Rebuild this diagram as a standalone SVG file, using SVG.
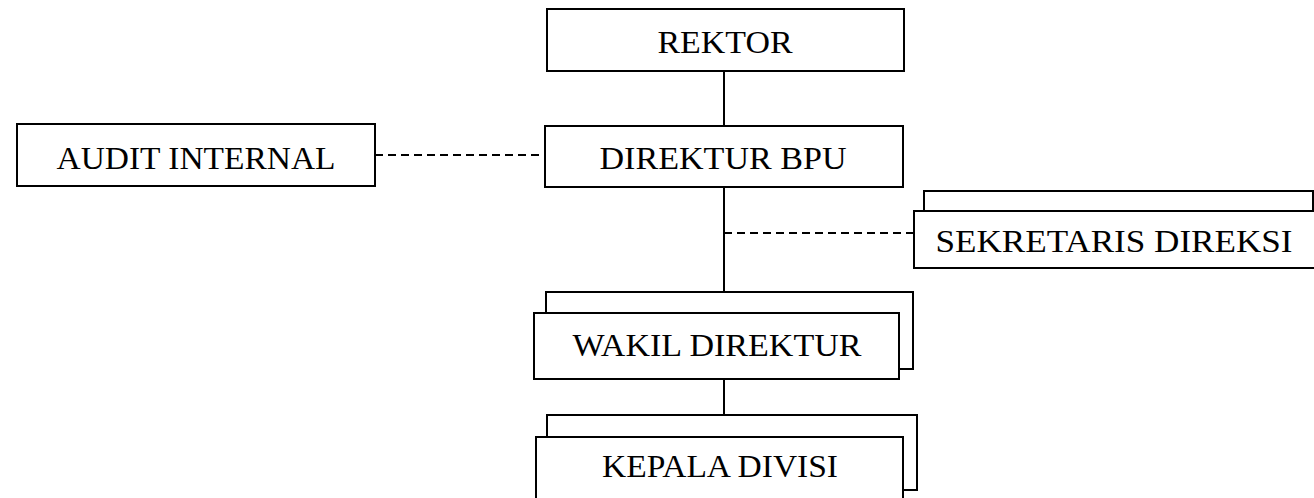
<svg xmlns="http://www.w3.org/2000/svg" width="1314" height="498" viewBox="0 0 1314 498">
<style>
.box{fill:#fff;stroke:#000;stroke-width:2}
.t{font-family:"Liberation Serif","DejaVu Serif",serif;font-size:32px;fill:#000;text-anchor:middle}
.ln{stroke:#000;stroke-width:2;fill:none}
.dash{stroke:#000;stroke-width:2;fill:none;stroke-dasharray:8,5}
</style>
<rect width="1314" height="498" fill="#fff"/>
<g id="connectors">
<line class="ln" x1="724" y1="71" x2="724" y2="126"/>
<line class="ln" x1="724" y1="187" x2="724" y2="292"/>
<line class="ln" x1="724" y1="379" x2="724" y2="415"/>
<line class="dash" x1="375" y1="155" x2="545" y2="155"/>
<line class="dash" x1="724" y1="233" x2="914" y2="233"/>
</g>
<g id="rektor">
<rect class="box" x="547" y="9" width="357" height="62"/>
<text class="t" x="725" y="53" textLength="135" lengthAdjust="spacingAndGlyphs">REKTOR</text>
</g>
<g id="direktur">
<rect class="box" x="545" y="126" width="358" height="61"/>
<text class="t" x="723" y="169" textLength="247" lengthAdjust="spacingAndGlyphs">DIREKTUR BPU</text>
</g>
<g id="audit">
<rect class="box" x="17" y="124" width="358" height="62"/>
<text class="t" x="196" y="169" textLength="279" lengthAdjust="spacingAndGlyphs">AUDIT INTERNAL</text>
</g>
<g id="sekretaris">
<rect class="box" x="924" y="191" width="389" height="30"/>
<rect class="box" x="914" y="211" width="410" height="57"/>
<text class="t" x="1114" y="252" textLength="357" lengthAdjust="spacingAndGlyphs">SEKRETARIS DIREKSI</text>
</g>
<g id="wakil">
<rect class="box" x="546" y="292" width="367" height="77"/>
<rect class="box" x="534" y="313" width="365" height="66"/>
<text class="t" x="717" y="356" textLength="289" lengthAdjust="spacingAndGlyphs">WAKIL DIREKTUR</text>
</g>
<g id="kepala">
<rect class="box" x="547" y="415" width="370" height="75"/>
<rect class="box" x="536" y="437" width="367" height="70"/>
<text class="t" x="720" y="477" textLength="236" lengthAdjust="spacingAndGlyphs">KEPALA DIVISI</text>
</g>
</svg>
